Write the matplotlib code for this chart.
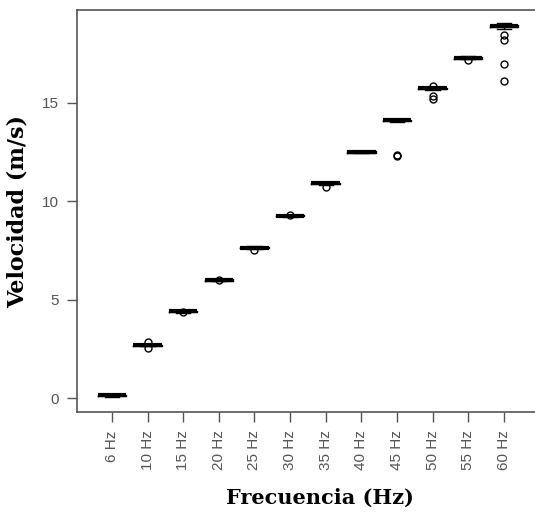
import matplotlib
matplotlib.use("Agg")
import matplotlib.pyplot as plt

# Velocidad medida por frecuencia del variador
labels = ["6 Hz", "10 Hz", "15 Hz", "20 Hz", "25 Hz", "30 Hz",
          "35 Hz", "40 Hz", "45 Hz", "50 Hz", "55 Hz", "60 Hz"]
medians = [0.15, 2.70, 4.42, 6.01, 7.66, 9.27, 10.92, 12.51, 14.12, 15.74, 17.29, 18.90]
q1 = [0.12, 2.67, 4.39, 5.98, 7.63, 9.24, 10.89, 12.48, 14.09, 15.70, 17.25, 18.84]
q3 = [0.18, 2.73, 4.45, 6.04, 7.69, 9.30, 10.95, 12.54, 14.15, 15.78, 17.33, 18.96]
whislo = [0.08, 2.64, 4.36, 5.95, 7.60, 9.21, 10.86, 12.45, 14.06, 15.66, 17.21, 18.76]
whishi = [0.22, 2.76, 4.48, 6.07, 7.72, 9.33, 10.98, 12.57, 14.18, 15.82, 17.38, 19.04]
outliers = [
    [],
    [2.84, 2.58],
    [4.40],
    [6.00],
    [7.54],
    [9.30],
    [10.72],
    [],
    [12.34, 12.29],
    [15.86, 15.38, 15.20],
    [17.16],
    [18.47, 18.22, 17.00, 16.12],
]

stats = []
for i in range(len(labels)):
    stats.append(dict(label=labels[i], med=medians[i], q1=q1[i], q3=q3[i],
                      whislo=whislo[i], whishi=whishi[i], fliers=outliers[i]))

fig = plt.figure(figsize=(5.35, 5.12), dpi=100)
ax = fig.add_axes([0.144, 0.195, 0.863, 0.785])

ax.bxp(stats, positions=range(1, len(labels) + 1), widths=0.8,
       boxprops=dict(color="black", linewidth=1),
       medianprops=dict(color="black", linewidth=3, solid_capstyle="butt"),
       whiskerprops=dict(color="black", linewidth=1, linestyle="--"),
       capprops=dict(color="black", linewidth=1),
       capwidths=0.4,
       flierprops=dict(marker="o", markersize=5, markerfacecolor="none",
                       markeredgecolor="black", markeredgewidth=1))

ax.set_xlim(0.02, 12.98)
ax.set_ylim(-0.70, 19.71)
ax.set_yticks([0, 5, 10, 15])
ax.set_xticks(range(1, len(labels) + 1))
ax.set_xticklabels(labels, rotation=90)

grey = "#555555"
for side in ["left", "bottom", "top"]:
    ax.spines[side].set_color(grey)
    ax.spines[side].set_linewidth(1.2)
ax.spines["right"].set_visible(False)
ax.tick_params(axis="both", colors=grey, direction="out", length=7, width=1,
               labelsize=11, pad=6)
for t in ax.get_xticklabels() + ax.get_yticklabels():
    t.set_fontfamily("Liberation Sans")
    t.set_color(grey)

ax.set_xlabel("Frecuencia (Hz)", fontfamily="DejaVu Serif", fontweight="bold",
              fontsize=15)
ax.set_ylabel("Velocidad (m/s)", fontfamily="DejaVu Serif", fontweight="bold",
              fontsize=16)
# posiciones de los títulos en coordenadas de figura
ax.xaxis.set_label_coords(320 / 535, 24 / 512, transform=fig.transFigure)
ax.yaxis.set_label_coords(29 / 535, 301 / 512, transform=fig.transFigure)

fig.savefig("out.png", dpi=100)
